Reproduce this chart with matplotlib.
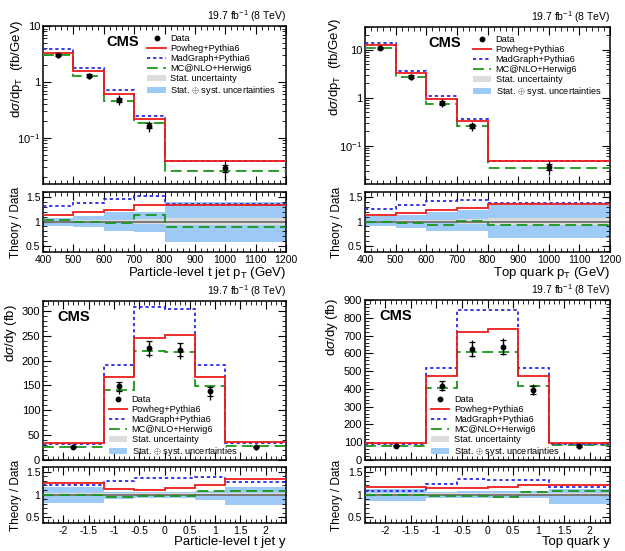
import numpy as np
import matplotlib
matplotlib.use("Agg")
import matplotlib.pyplot as plt
from matplotlib.ticker import AutoMinorLocator, MultipleLocator, FixedLocator
from matplotlib.patches import Patch
from matplotlib.lines import Line2D

plt.rcParams['font.family'] = ['Liberation Sans', 'DejaVu Sans']
plt.rcParams['mathtext.fontset'] = 'custom'
plt.rcParams['mathtext.rm'] = 'Liberation Sans'
plt.rcParams['mathtext.it'] = 'Liberation Sans:italic'

# ---------------- data ----------------
pt_edges = [400, 500, 600, 700, 800, 1200]
y_edges = [-2.4, -1.2, -0.6, 0.0, 0.6, 1.2, 2.4]

# Particle-level t jet pT  (fb/GeV)
data_jetpt = [2.98, 1.30, 0.483, 0.166, 0.029]
powheg_jetpt = [3.35, 1.55, 0.60, 0.221, 0.0386]
madgraph_jetpt = [3.93, 1.79, 0.705, 0.251, 0.0394]
mcnlo_jetpt = [3.07, 1.29, 0.464, 0.187, 0.0255]
stat_jetpt = [0.02, 0.03, 0.04, 0.05, 0.07]
totup_jetpt = [0.08, 0.12, 0.19, 0.20, 0.40]
totdn_jetpt = [0.10, 0.12, 0.20, 0.22, 0.41]

# Top quark pT  (fb/GeV)
data_toppt = [11.0, 2.78, 0.787, 0.256, 0.036]
powheg_toppt = [12.5, 3.28, 0.968, 0.325, 0.049]
madgraph_toppt = [13.75, 3.70, 1.11, 0.366, 0.0493]
mcnlo_toppt = [11.0, 2.67, 0.732, 0.259, 0.0338]
stat_toppt = [0.02, 0.03, 0.04, 0.05, 0.07]
totup_toppt = [0.11, 0.14, 0.20, 0.23, 0.33]
totdn_toppt = [0.10, 0.14, 0.20, 0.20, 0.33]

# Particle-level t jet y  (fb)
data_jety = [27, 148, 225, 222, 138, 27]
powheg_jety = [34, 167, 245, 252, 168, 36]
madgraph_jety = [32.7, 192, 307, 304, 192, 34.5]
mcnlo_jety = [27, 140, 219, 217, 149, 29]
stat_jety = [0.03, 0.03, 0.03, 0.03, 0.03, 0.03]
totup_jety = [0.17, 0.06, 0.06, 0.06, 0.08, 0.17]
totdn_jety = [0.19, 0.10, 0.08, 0.08, 0.12, 0.22]

# Top quark y  (fb)
data_topy = [81, 418, 625, 635, 395, 78]
powheg_topy = [94, 474, 719, 738, 474, 94]
madgraph_topy = [87.5, 518, 843, 843, 518, 91]
mcnlo_topy = [81, 405, 606, 606, 414, 84]
stat_topy = [0.03, 0.03, 0.03, 0.03, 0.03, 0.03]
totup_topy = [0.12, 0.06, 0.08, 0.08, 0.08, 0.12]
totdn_topy = [0.15, 0.07, 0.07, 0.07, 0.08, 0.20]

labels = ["Data", "Powheg+Pythia6", "MadGraph+Pythia6", "MC@NLO+Herwig6",
          "Stat. uncertainty", "Stat. $\\oplus$ syst. uncertainties"]
lumi_text = "19.7 fb$^{-1}$ (8 TeV)"

# ---------------- style ----------------
C_POW = '#ee1c1c'
C_MG = '#2a2aee'
C_NLO = '#1a961a'
C_STAT = '#dcdcdc'
C_TOT = '#9dcbf5'
LS_MG = (0, (1.8, 1.6))
LS_NLO = (0, (6, 3))

W, H = 625.0, 551.0
fig = plt.figure(figsize=(W / 100, H / 100), dpi=100)


def rect(l, r, t, b):
    return [l / W, 1 - b / H, (r - l) / W, (b - t) / H]


def style_ax(ax, fs=7.5):
    ax.tick_params(which='both', direction='in', top=True, right=True, labelsize=fs, pad=2)
    ax.tick_params(which='major', length=6, width=0.8)
    ax.tick_params(which='minor', length=3, width=0.6)
    for s in ax.spines.values():
        s.set_linewidth(1.1)


def panel(mrect, rrect, edges, data, pw, mg, nlo, stat, tup, tdn, logy, ylim,
          xlabel, ylabel, yticks, legpos, cmspos, ylab_xy, rlab_x):
    edges = np.asarray(edges, float)
    data = np.asarray(data, float)
    pw, mg, nlo = (np.asarray(v, float) for v in (pw, mg, nlo))
    stat, tup, tdn = (np.asarray(v, float) for v in (stat, tup, tdn))
    centers = 0.5 * (edges[1:] + edges[:-1])

    ax = fig.add_axes(mrect)
    ax.stairs(nlo, edges, color=C_NLO, lw=1.3, ls=LS_NLO, baseline=None, zorder=3)
    ax.stairs(mg, edges, color=C_MG, lw=1.3, ls=LS_MG, baseline=None, zorder=3)
    ax.stairs(pw, edges, color=C_POW, lw=1.3, baseline=None, zorder=4)
    ax.errorbar(centers, data, yerr=[data * tdn, data * tup], fmt='none', ecolor='k',
                elinewidth=0.9, zorder=5)
    ax.errorbar(centers, data, yerr=data * stat * 2.0, fmt='o', color='k', ms=3.2,
                elinewidth=0.9, capsize=2.0, capthick=0.9, zorder=6)
    ax.set_xlim(edges[0], edges[-1])
    if logy:
        ax.set_yscale('log')
        ax.yaxis.set_major_locator(FixedLocator([0.1, 1, 10]))
        ax.set_yticklabels(['10$^{-1}$', '1', '10'])
    else:
        ax.yaxis.set_major_locator(MultipleLocator(yticks))
        ax.yaxis.set_minor_locator(AutoMinorLocator(5))
    ax.set_ylim(*ylim)
    if logy:
        ax.xaxis.set_major_locator(MultipleLocator(100))
    else:
        ax.xaxis.set_major_locator(MultipleLocator(0.5))
    ax.xaxis.set_minor_locator(AutoMinorLocator(5))
    ax.tick_params(axis='x', labelbottom=False)
    style_ax(ax, fs=8)
    ax.set_ylabel(ylabel, fontsize=9.5)
    ax.yaxis.set_label_coords(ylab_xy[0], ylab_xy[1])
    ax.text(1.0, 1.015, lumi_text, transform=ax.transAxes, ha='right', va='bottom', fontsize=7.5)
    ax.text(cmspos[0], cmspos[1], "CMS", transform=ax.transAxes, ha='left', va='center',
            fontsize=10.5, fontweight='bold')

    handles = [
        Line2D([], [], marker='o', color='k', ls='none', ms=3.2),
        Line2D([], [], color=C_POW, lw=1.3),
        Line2D([], [], color=C_MG, lw=1.3, ls=LS_MG),
        Line2D([], [], color=C_NLO, lw=1.3, ls=LS_NLO),
        Patch(facecolor=C_STAT, edgecolor='none'),
        Patch(facecolor=C_TOT, edgecolor='none'),
    ]
    ax.legend(handles, labels, loc=legpos[2], bbox_to_anchor=(legpos[0], legpos[1]),
              frameon=False, fontsize=6.6, handlelength=2.0, handleheight=0.7,
              labelspacing=0.12, borderpad=0.0, handletextpad=0.5, borderaxespad=0)

    rx = fig.add_axes(rrect)
    rx.stairs(1 + tup, edges, baseline=1 - tdn, fill=True, color=C_TOT, lw=0, zorder=1)
    rx.stairs(1 + stat, edges, baseline=1 - stat, fill=True, color=C_STAT, lw=0, zorder=2)
    rx.axhline(1.0, color='#707070', lw=1.3, zorder=2.5)
    rx.stairs(nlo / data, edges, color=C_NLO, lw=1.3, ls=LS_NLO, baseline=None, zorder=3)
    rx.stairs(mg / data, edges, color=C_MG, lw=1.3, ls=LS_MG, baseline=None, zorder=3)
    rx.stairs(pw / data, edges, color=C_POW, lw=1.3, baseline=None, zorder=4)
    rx.set_xlim(edges[0], edges[-1])
    rx.set_ylim(0.38, 1.6)
    rx.yaxis.set_major_locator(FixedLocator([0.5, 1.0, 1.5]))
    rx.set_yticklabels(['0.5', '1', '1.5'])
    rx.yaxis.set_minor_locator(MultipleLocator(0.1))
    if logy:
        rx.xaxis.set_major_locator(MultipleLocator(100))
    else:
        rx.set_xticks([-2, -1.5, -1, -0.5, 0, 0.5, 1, 1.5, 2])
        rx.set_xticklabels(['-2', '-1.5', '-1', '-0.5', '0', '0.5', '1', '1.5', '2'])
    rx.xaxis.set_minor_locator(AutoMinorLocator(5))
    style_ax(rx, fs=7.5)
    rx.set_ylabel("Theory / Data", fontsize=8.5)
    rx.yaxis.set_label_coords(rlab_x, 0.5)
    rx.set_xlabel(xlabel, fontsize=9.5, loc='right', labelpad=0)
    return ax, rx


ax1, r1 = panel(rect(43, 286, 26, 184), rect(43, 286, 192, 252), pt_edges,
                data_jetpt, powheg_jetpt, madgraph_jetpt, mcnlo_jetpt,
                stat_jetpt, totup_jetpt, totdn_jetpt, True, (0.015, 10),
                "Particle-level t jet p$_{\\mathrm{T}}$ (GeV)",
                "d$\\sigma$/dp$_{\\mathrm{T}}$  (fb/GeV)", None,
                (0.43, 0.95, 'upper left'), (0.26, 0.9), (-0.075, 0.73), -0.088)
ax2, r2 = panel(rect(365, 610, 27, 184), rect(365, 610, 192, 252), pt_edges,
                data_toppt, powheg_toppt, madgraph_toppt, mcnlo_toppt,
                stat_toppt, totup_toppt, totdn_toppt, True, (0.016, 30),
                "Top quark p$_{\\mathrm{T}}$ (GeV)",
                "d$\\sigma$/dp$_{\\mathrm{T}}$  (fb/GeV)", None,
                (0.44, 0.95, 'upper left'), (0.26, 0.9), (-0.09, 0.745), -0.09)
ax3, r3 = panel(rect(43, 286, 301, 460), rect(43, 286, 467, 523), y_edges,
                data_jety, powheg_jety, madgraph_jety, mcnlo_jety,
                stat_jety, totup_jety, totdn_jety, False, (0, 320),
                "Particle-level t jet y", "d$\\sigma$/dy (fb)", 50,
                (0.27, 0.01, 'lower left'), (0.06, 0.9), (-0.097, 0.8), -0.088)
ax4, r4 = panel(rect(365, 610, 300, 460), rect(365, 610, 467, 523), y_edges,
                data_topy, powheg_topy, madgraph_topy, mcnlo_topy,
                stat_topy, totup_topy, totdn_topy, False, (0, 900),
                "Top quark y", "d$\\sigma$/dy (fb)", 100,
                (0.27, 0.01, 'lower left'), (0.06, 0.9), (-0.1, 0.83), -0.09)

fig.savefig("out.png", dpi=100)
